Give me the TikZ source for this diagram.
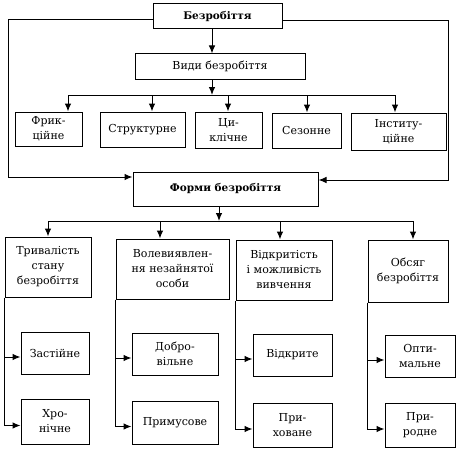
\documentclass[tikz,border=0pt]{standalone}
\usepackage{fontspec}
\setmainfont{DejaVu Serif}
\usetikzlibrary{arrows.meta}
\tikzset{
  box/.style={draw, line width=1pt, inner sep=1pt, align=center,
    font=\fontsize{11}{15}\selectfont},
  head/.style={box, font=\fontsize{10.5}{14}\selectfont\bfseries},
  link/.style={line width=1pt},
  arr/.style={link, -{Latex[length=8pt,width=6.5pt]}},
}
\begin{document}
\begin{tikzpicture}[x=1pt,y=-1pt]
			\useasboundingbox (0,0) rectangle (460,452);
			
			%%%%% TOP %%%%%
			\node[head, minimum width=129, minimum height=25] (bez) at (217.5, 16.5) {Безробіття};
			\node[box, minimum width=170, minimum height=25] (vydy) at (220, 66.5) {Види безробіття};
			
			\node[box, minimum width=67, minimum height=34] (fryk) at (48.5, 129) {Фрик-\\ційне};
			\node[box, minimum width=85, minimum height=35] (strukt) at (142.5, 129.5) {Структурне};
			\node[box, minimum width=67, minimum height=36] (tsykl) at (228.5, 130) {Ци-\\клічне};
			\node[box, minimum width=69, minimum height=35] (sezon) at (306.5, 130.5) {Сезонне};
			\node[box, minimum width=95, minimum height=37] (instyt) at (398.5, 131.5) {Інститу-\\ційне};
			
			\node[head, minimum width=185, minimum height=34] (formy) at (225.5, 189) {Форми безробіття};
			
			%%%%% FORMS %%%%%
			\node[box, minimum width=86, minimum height=60] (tryv) at (48, 267) {Тривалість\\стану\\безробіття};
			\node[box, minimum width=113, minimum height=60] (volev) at (172.5, 269) {Волевиявлен-\\ня незайнятої\\особи};
			\node[box, minimum width=96, minimum height=60] (vidkr) at (284, 270) {Відкритість\\і можливість\\вивчення};
			\node[box, minimum width=80, minimum height=62] (obsyah) at (408, 271) {Обсяг\\безробіття};
			
			\node[box, minimum width=68, minimum height=42] (zast) at (55, 353) {Застійне};
			\node[box, minimum width=68, minimum height=45] (khron) at (55, 421.5) {Хро-\\нічне};
			\node[box, minimum width=86, minimum height=42] (dobro) at (175, 354) {Добро-\\вільне};
			\node[box, minimum width=86, minimum height=43] (prymus) at (175, 422.5) {Примусове};
			\node[box, minimum width=79, minimum height=42] (vidkryte) at (292.5, 355) {Відкрите};
			\node[box, minimum width=79, minimum height=44] (prykh) at (292.5, 425) {При-\\ховане};
			\node[box, minimum width=70, minimum height=42] (optym) at (420, 356) {Опти-\\мальне};
			\node[box, minimum width=70, minimum height=44] (pryrod) at (420, 425) {При-\\родне};
			
			%%%%% ARROWS %%%%%
			\coordinate (bez-out) at ([xshift=-5.5]bez.south);
			\draw[arr] (bez-out) -- (bez-out |- vydy.north);
			
			\coordinate (busA) at (0, 95);
			\coordinate (vydy-out) at ([xshift=-8]vydy.south);
			\draw[arr] (vydy-out) -- (vydy-out |- busA);
			\foreach \n/\dx in {fryk/19.5, strukt/9.5, tsykl/-0.5, sezon/0.5, instyt/-3.5}
				\coordinate (\n-in) at ([xshift=\dx]\n.north);
			\draw[link] (fryk-in |- busA) -- (instyt-in |- busA);
			\foreach \n in {fryk, strukt, tsykl, sezon, instyt}
				\draw[arr] (\n-in |- busA) -- (\n-in);
			
			\coordinate (loopL) at (8, 177);
			\coordinate (loopR) at (448, 180);
			\draw[arr] ([yshift=-3.5]bez.west) -| (loopL) -- (loopL -| formy.west);
			\draw[arr] ([yshift=-4.5]bez.east) -| (loopR) -- (loopR -| formy.east);
			
			\coordinate (busB) at (0, 221);
			\coordinate (formy-out) at ([xshift=-6.5]formy.south);
			\draw[arr] (formy-out) -- (formy-out |- busB);
			\foreach \n/\dx in {tryv/0, volev/-12.5, vidkr/-4, obsyah/5}
				\coordinate (\n-in) at ([xshift=\dx]\n.north);
			\draw[link] (tryv-in |- busB) -- (obsyah-in |- busB);
			\foreach \n in {tryv, volev, vidkr, obsyah}
				\draw[arr] (\n-in |- busB) -- (\n-in);
			
			\foreach \g/\a/\b in {tryv/zast/khron, volev/dobro/prymus, vidkr/vidkryte/prykh, obsyah/optym/pryrod} {
				\coordinate (\a-in) at ([yshift=-4]\a.west);
				\coordinate (\b-in) at ([yshift=-4]\b.west);
				\draw[arr] (\g.south west) |- (\b-in);
				\draw[arr] (\g.south west |- \a-in) -- (\a-in);
			}
			
			%%%%% END %%%%%
\end{tikzpicture}
\end{document}
